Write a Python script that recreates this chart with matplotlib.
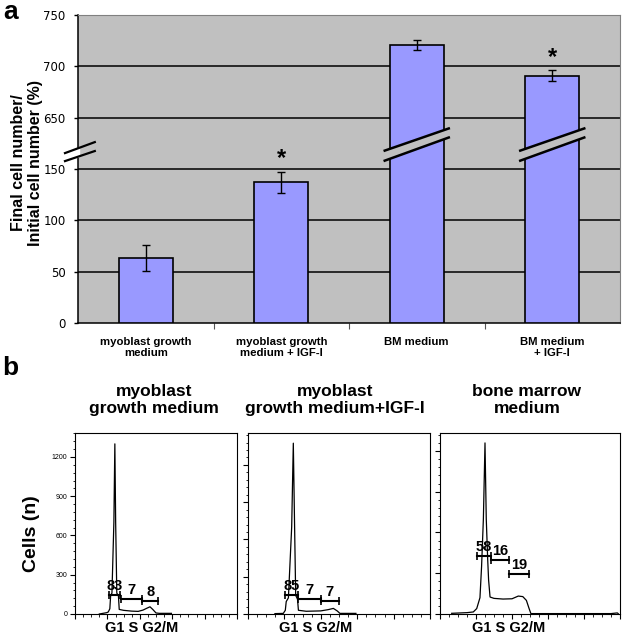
import matplotlib

matplotlib.use("Agg")
import matplotlib.pyplot as plt
import matplotlib.transforms as mtransforms
import numpy as np
from matplotlib.patches import Polygon
from matplotlib.ticker import MultipleLocator

W, H = 623, 639
plt.rcParams["font.family"] = ["Liberation Sans", "DejaVu Sans"]

# --- panel a: growth after culture ---
conditions = ["myoblast growth\nmedium", "myoblast growth\nmedium + IGF-I",
              "BM medium", "BM medium\n+ IGF-I"]
growth_pct = [63, 137, 721, 691]
growth_err = [12.5, 10.5, 5, 5]
significant = [False, True, False, True]
ytick_vals = [0, 50, 100, 150, 650, 700, 750]
broken_bars = [2, 3]

# --- panel b: DNA content histograms (channel, cell count) ---
hist_titles = ["myoblast\ngrowth medium", "myoblast\ngrowth medium+IGF-I",
               "bone marrow\nmedium"]
mgm_ch = [150, 195, 205, 215, 220, 228, 240, 246, 251, 258, 268, 273, 300,
          350, 390, 420, 445, 463, 480, 500, 520, 595]
mgm_n = [0, 10, 15, 40, 140, 160, 700, 1300, 700, 160, 140, 35, 28,
         22, 20, 30, 45, 55, 35, 8, 5, 5]
igf_ch = [148, 194, 205, 210, 222, 240, 249, 255, 262, 272, 277, 320,
          400, 440, 469, 490, 505, 593]
igf_n = [3, 5, 30, 100, 130, 700, 1375, 800, 150, 120, 30, 22,
         25, 35, 45, 25, 5, 5]
bm_ch = [65, 150, 185, 204, 222, 231, 241, 250, 257, 265, 270, 278, 300,
         350, 400, 435, 460, 480, 495, 505, 950, 985, 990]
bm_n = [5, 10, 15, 40, 120, 350, 700, 1259, 700, 400, 250, 125, 115,
        110, 112, 132, 128, 100, 40, 3, 3, 8, 3]
hist_ymax = [1383, 1457, 1332]
phase_pct = [[83, 7, 8], [85, 7, 7], [58, 16, 19]]
gate_start = [[212, 284, 412], [203, 276, 400], [207, 281, 383]]
gate_end = [[278, 412, 515], [276, 400, 500], [281, 383, 496]]
gate_level = [[142, 114, 97], [150, 121, 107], [429, 400, 297]]

GAP = 450  # 650 on the axis sits one grid step above 150


def squash(v):
    v = np.asarray(v, dtype=float)
    return np.where(v > 400, v - GAP, v)


def box(x0, y0, x1, y1):
    return [x0 / W, 1 - y1 / H, (x1 - x0) / W, (y1 - y0) / H]


fig = plt.figure(figsize=(W / 100, H / 100), dpi=100)

# ---------------- panel a ----------------
ax = fig.add_axes(box(78, 15, 620, 323))
ax.set_facecolor("#c0c0c0")
x = np.arange(len(conditions))
tops = squash(growth_pct)
ax.bar(x, tops, width=0.4, color="#9999ff", edgecolor="black", linewidth=1.2, zorder=3)
ax.errorbar(x, tops, yerr=growth_err, fmt="none", ecolor="black", elinewidth=1,
            capsize=3.2, capthick=1, zorder=4)
for i, star in enumerate(significant):
    if star:
        ax.text(x[i], tops[i] + growth_err[i] + 13, "*", ha="center", va="center",
                fontsize=17, fontweight="bold", zorder=5)

yt = squash(ytick_vals)
ax.set_ylim(0, yt[-1])
ax.set_xlim(-0.5, len(conditions) - 0.5)
ax.set_yticks(yt)
ax.set_yticklabels([str(v) for v in ytick_vals], family="DejaVu Sans", fontsize=8.5)
for g in yt[1:]:
    ax.axhline(g, color="black", lw=1.1, zorder=1)
ax.tick_params(axis="y", length=3, width=1, pad=6)
ax.set_xticks(x[:-1] + 0.5)
ax.set_xticklabels([])
ax.tick_params(axis="x", which="major", length=4, width=0.8, color="#555555")
ax.set_xticks(x, minor=True)
ax.set_xticklabels(conditions, minor=True, fontsize=8.2, fontweight="bold", va="top")
ax.tick_params(axis="x", which="minor", length=0, pad=10)
for s in ("top", "right"):
    ax.spines[s].set_color("#808080")
ax.spines["left"].set_linewidth(1.1)
ax.spines["bottom"].set_linewidth(1.1)

# break marks across the tall bars
for i in broken_bars:
    x0, x1 = x[i] - 0.245, x[i] + 0.245
    lo0, lo1, hi0, hi1 = 157.7, 181.1, 167.5, 189.9
    ax.add_patch(Polygon([(x0, lo0), (x1, lo1), (x1, hi1), (x0, hi0)],
                         closed=True, facecolor="#c0c0c0", edgecolor="none", zorder=5))
    ax.plot([x0, x1], [lo0, lo1], color="black", lw=1.8, zorder=6, solid_capstyle="butt")
    ax.plot([x0, x1], [hi0, hi1], color="black", lw=1.8, zorder=6, solid_capstyle="butt")

# break mark on the y axis
tr = mtransforms.blended_transform_factory(ax.transAxes, ax.transData)
bx0, bx1 = -0.024, 0.031
ax.add_patch(Polygon([(-0.006, 159.7), (0.004, 161.6), (0.004, 171.5), (-0.006, 169.6)],
                     closed=True, transform=tr, facecolor="white", edgecolor="none",
                     clip_on=False, zorder=5))
ax.plot([bx0, bx1], [157.7, 167.5], transform=tr, color="black", lw=1.6, clip_on=False, zorder=6)
ax.plot([bx0, bx1], [165.5, 176.2], transform=tr, color="black", lw=1.6, clip_on=False, zorder=6)

fig.text(27 / W, 1 - 163 / H, "Final cell number/\nInitial cell number (%)", rotation=90,
         ha="center", va="center", fontsize=11.5, fontweight="bold", linespacing=1.1)
fig.text(11 / W, 1 - 12 / H, "a", ha="center", va="center", fontsize=19, fontweight="bold")
fig.text(10 / W, 1 - 368 / H, "b", ha="center", va="center", fontsize=19, fontweight="bold")

# ---------------- panel b ----------------
boxes = [box(75, 433, 237, 614), box(248, 433, 430, 614), box(440, 433, 620, 614)]
curves = [(mgm_ch, mgm_n), (igf_ch, igf_n), (bm_ch, bm_n)]
title_x = [154, 335, 527]
label_x = [142, 316, 509]
for k, pos in enumerate(boxes):
    hx = fig.add_axes(pos)
    ch, n = curves[k]
    hx.plot(ch, n, color="black", lw=0.9)
    hx.set_xlim(0, 1000)
    hx.set_ylim(0, hist_ymax[k])
    hx.xaxis.set_major_locator(MultipleLocator(200))
    hx.xaxis.set_minor_locator(MultipleLocator(50))
    hx.yaxis.set_major_locator(MultipleLocator(300))
    hx.yaxis.set_minor_locator(MultipleLocator(60))
    hx.set_xticklabels([])
    hx.tick_params(which="major", length=3.5, width=0.8, pad=2, labelsize=5)
    hx.tick_params(which="minor", length=1.8, width=0.6)
    if k > 0:
        hx.set_yticklabels([])
    for s in hx.spines.values():
        s.set_linewidth(0.8)
    for p, a, b, lvl in zip(phase_pct[k], gate_start[k], gate_end[k], gate_level[k]):
        hx.plot([a, b], [lvl, lvl], color="black", lw=1.5)
        hx.plot([a, b], [lvl, lvl], ls="none", marker="|", ms=6, mew=1.2, color="black")
        hx.annotate(str(p), xy=((a + b) / 2, lvl), xytext=(0, 1.5), textcoords="offset points",
                    ha="center", va="bottom", fontsize=10.5, fontweight="bold")
    fig.text(title_x[k] / W, 1 - 400 / H, hist_titles[k], ha="center", va="center",
             fontsize=12.5, fontweight="bold", linespacing=1.2)
    fig.text(label_x[k] / W, 1 - 628 / H, "G1 S G2/M", ha="center", va="center",
             fontsize=10.5, fontweight="bold")

fig.text(31 / W, 1 - 534 / H, "Cells (n)", rotation=90, ha="center", va="center",
         fontsize=14, fontweight="bold")

fig.savefig("out.png", dpi=100)
